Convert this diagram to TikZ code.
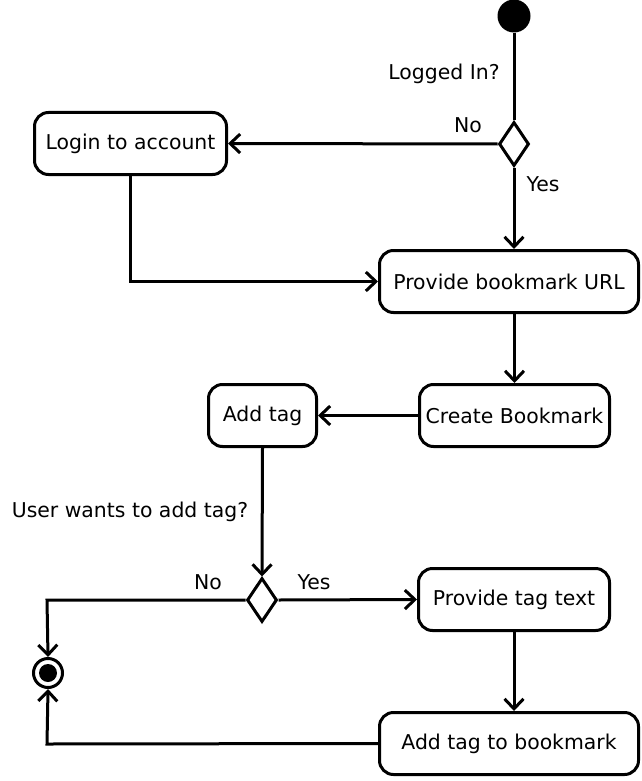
\documentclass[tikz,border=0pt]{standalone}
\usepackage{fontspec}
\setmainfont{DejaVu Sans}
\usetikzlibrary{shapes.geometric,arrows.meta}
\begin{document}
\begin{tikzpicture}[x=1pt,y=-1pt,
  every node/.style={font=\fontsize{20.4}{24}\selectfont},
  act/.style={draw,rounded corners=14pt,line width=3pt,inner sep=0pt,minimum height=62pt},
  dec/.style={draw,diamond,line width=3pt,inner sep=0pt,minimum width=30pt,minimum height=44pt},
  lbl/.style={inner sep=0pt},
  conn/.style={line width=3pt},
  arr/.style={conn,-{Straight Barb[length=10pt,width=19pt]}},
]
\useasboundingbox (0,0) rectangle (641,781);
\node[circle,fill,inner sep=0pt,minimum size=33pt] (start) at (514,16) {};
\node[dec] (d1) at (514,144) {};
\node[act,minimum width=192pt] (login) at (130.5,143.5) {Login to account};
\node[act,minimum width=259pt] (provide) at (509,281.5) {Provide bookmark URL};
\node[act,minimum width=190pt] (create) at (514.5,415.5) {Create Bookmark};
\node[act,minimum width=108pt] (addtag) at (262.5,415.5) {Add tag};
\node[dec] (d2) at (262,600) {};
\node[act,minimum width=191pt] (ptag) at (514,599.5) {Provide tag text};
\node[act,minimum width=259pt] (addbm) at (509,743.5) {Add tag to bookmark};
\node[circle,draw,line width=3pt,inner sep=0pt,minimum size=29pt] (final) at (48,673) {};
\fill (final.center) circle (9pt);

\node[lbl] (l1) at (444,74) {Logged In?};
\node[lbl] (l2) at (468,125) {No};
\node[lbl] (l3) at (543,184) {Yes};
\node[lbl] (l4) at (130,512) {User wants to add tag?};
\node[lbl] (l5) at (208,582) {No};
\node[lbl] (l6) at (314,582) {Yes};

\coordinate (c1) at (47,600);
\coordinate (c2) at (47,744);

\draw[conn] (start) -- (d1.north);
\draw[arr] (d1.west) -- (login.east);
\draw[arr] (d1.south) -- (d1.south |- provide.north);
\draw[arr] (login.south) |- (provide.west);
\draw[arr] (create.north |- provide.south) -- (create.north);
\draw[arr] (create.west) -- (addtag.east);
\draw[arr] (addtag.south) -- (d2.north);
\draw[arr] (d2.east) -- (ptag.west);
\draw[arr] (d2.west) -- (c1) -- (final.north);
\draw[arr] (ptag.south) -- (ptag.south |- addbm.north);
\draw[arr] (addbm.west) -- (c2) -- (final.south);
\end{tikzpicture}
\end{document}
